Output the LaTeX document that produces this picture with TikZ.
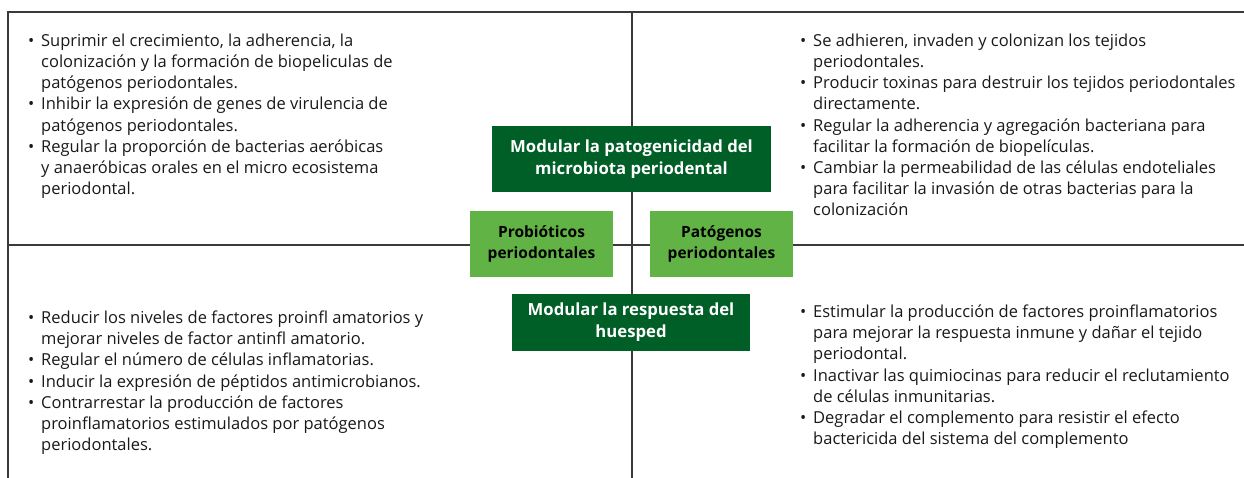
\documentclass[tikz,border=0pt]{standalone}
\usepackage{fontspec}
\setmainfont{Open Sans}
\definecolor{dkgreen}{HTML}{005E27}
\definecolor{ltgreen}{HTML}{62B346}
\definecolor{linegray}{HTML}{3A3A3A}
\newcommand{\bi}{\makebox[13pt][l]{•}}
\newcommand{\ci}{\hspace*{13pt}}
\newcommand{\blk}[1]{\begin{tabular}[t]{@{}l@{}}#1\end{tabular}}
\tikzset{
  frame/.style={draw=linegray, line width=1.4pt},
  txt/.style={inner sep=0pt, anchor=base west, font=\fontsize{16.5}{21.2}\selectfont, text=black!90},
  dkbox/.style={fill=dkgreen, text=white, inner sep=0pt, align=center, font=\fontsize{16.7}{22}\selectfont\bfseries},
  ltbox/.style={fill=ltgreen, text=black, inner sep=0pt, align=center, font=\fontsize{15.5}{21}\selectfont\bfseries},
}
\begin{document}
\begin{tikzpicture}[x=1pt,y=-1pt]
\useasboundingbox (0,0) rectangle (1244,478);
\coordinate (tl) at (8,12);
\coordinate (tr) at (1244,12);
\coordinate (bl) at (8,478);
\coordinate (ml) at (8,245);
\coordinate (mr) at (1244,245);
\coordinate (ct) at (632,12);
\coordinate (cb) at (632,478);
\draw[frame] (bl) -- (tl) -- (tr);
\draw[frame] (ml) -- (mr);
\draw[frame] (ct) -- (cb);

\node[dkbox, minimum width=279pt, minimum height=66pt] (patog) at (631.5,159) {Modular la patogenicidad del\\microbiota periodental};
\node[ltbox, minimum width=143pt, minimum height=66pt] (probio) at (541.5,244) {Probióticos\\periodontales};
\node[ltbox, minimum width=143pt, minimum height=66pt] (patogenos) at (721.5,244) {Patógenos\\periodontales};
\node[dkbox, minimum width=238pt, minimum height=57pt] (resp) at (631,322.5) {Modular la respuesta del\\huesped};

\node[txt] (q1) at (28,46.4) {\blk{\bi Suprimir el crecimiento, la adherencia, la\\
\ci colonización y la formación de biopeliculas de\\
\ci patógenos periodontales.\\
\bi Inhibir la expresión de genes de virulencia de\\
\ci patógenos periodontales.\\
\bi Regular la proporción de bacterias aeróbicas\\
\ci y anaeróbicas orales en el micro ecosistema\\
\ci periodontal.}};

\node[txt] (q2) at (800,46.4) {\blk{\bi Se adhieren, invaden y colonizan los tejidos\\
\ci periodontales.\\
\bi Producir toxinas para destruir los tejidos periodontales\\
\ci directamente.\\
\bi Regular la adherencia y agregación bacteriana para\\
\ci facilitar la formación de biopelículas.\\
\bi Cambiar la permeabilidad de las células endoteliales\\
\ci para facilitar la invasión de otras bacterias para la\\
\ci colonización}};

\node[txt] (q3) at (28,323.4) {\blk{\bi Reducir los niveles de factores proinfl amatorios y\\
\ci mejorar niveles de factor antinfl amatorio.\\
\bi Regular el número de células inflamatorias.\\
\bi Inducir la expresión de péptidos antimicrobianos.\\
\bi Contrarrestar la producción de factores\\
\ci proinflamatorios estimulados por patógenos\\
\ci periodontales.}};

\node[txt] (q4) at (800,317.4) {\blk{\bi Estimular la producción de factores proinflamatorios\\
\ci para mejorar la respuesta inmune y dañar el tejido\\
\ci periodontal.\\
\bi Inactivar las quimiocinas para reducir el reclutamiento\\
\ci de células inmunitarias.\\
\bi Degradar el complemento para resistir el efecto\\
\ci bactericida del sistema del complemento}};
\end{tikzpicture}
\end{document}
